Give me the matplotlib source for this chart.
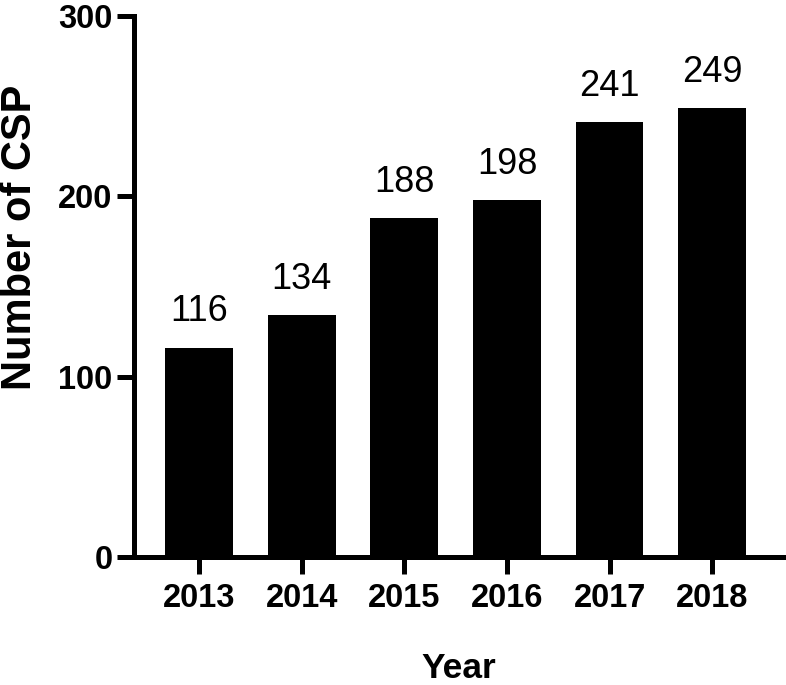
import matplotlib
matplotlib.use('Agg')
import matplotlib.pyplot as plt

years = ['2013', '2014', '2015', '2016', '2017', '2018']
counts = [116, 134, 188, 198, 241, 249]
yticks = [0, 100, 200, 300]

plt.rcParams['font.family'] = ['Liberation Sans', 'DejaVu Sans']

fig = plt.figure(figsize=(7.86, 6.85), dpi=100)
ax = fig.add_axes([0.1705, 0.1869, 0.8257, 0.7897])

x = range(len(years))
bars = ax.bar(x, counts, width=0.66, color='black', zorder=2)

# value labels above the bars
for xi, v in zip(x, counts):
    ax.annotate(str(v), (xi, v), xytext=(0, 19), textcoords='offset points',
                ha='center', va='baseline', fontsize=26)

ax.set_xlim(-0.634, 5.69)
ax.set_ylim(0, 300)
ax.set_xticks(list(x))
ax.set_xticklabels(years, fontsize=23.5, fontweight='bold')
ax.set_yticks(yticks)
ax.set_yticklabels([str(t) for t in yticks], fontsize=23.5, fontweight='bold')

for side in ['top', 'right']:
    ax.spines[side].set_visible(False)
for side in ['left', 'bottom']:
    ax.spines[side].set_linewidth(3.6)
    ax.spines[side].set_zorder(3)

ax.tick_params(axis='x', direction='out', length=12, width=3.6, pad=7)
ax.tick_params(axis='y', direction='out', length=12, width=3.6, pad=3.5)

ax.set_xlabel('Year', fontsize=25.5, fontweight='bold', labelpad=27)
ax.set_ylabel('Number of CSP', fontsize=30, fontweight='bold')
ax.yaxis.set_label_coords(-0.145, 0.59)

fig.savefig('out.png', dpi=100)
